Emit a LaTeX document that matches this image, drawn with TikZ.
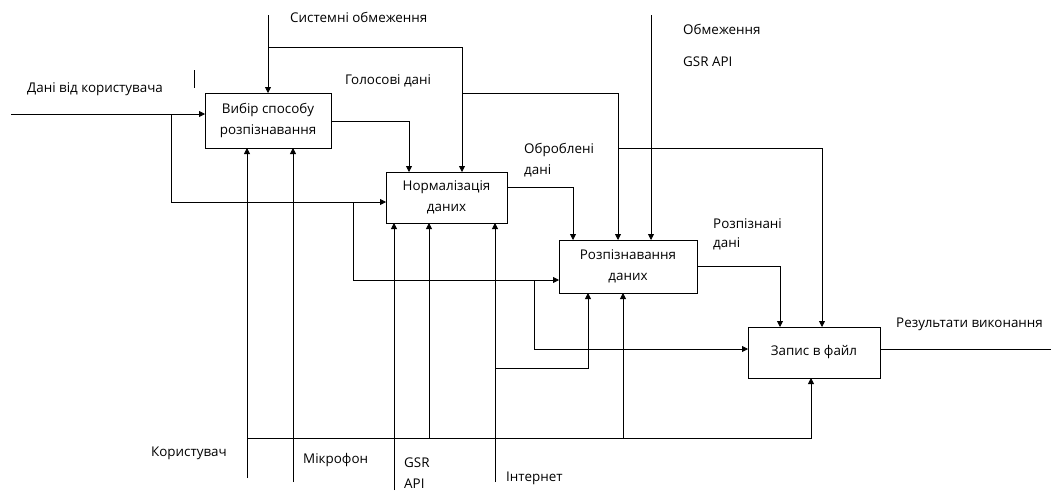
\documentclass[tikz,border=0pt]{standalone}
\usepackage{fontspec}
\setmainfont{Open Sans}
\usetikzlibrary{arrows.meta}
\begin{document}
\begin{tikzpicture}[x=1pt,y=-1pt,
  every node/.style={font=\fontsize{13.4}{21}\selectfont},
  box/.style={draw,line width=0.9pt,rectangle,inner sep=0pt,outer sep=0pt,align=center},
  lbl/.style={anchor=west,inner sep=0pt},
  wire/.style={line width=0.8pt},
  arr/.style={wire,-{Triangle[length=6pt,width=6pt]}}]
\useasboundingbox (0,0) rectangle (1051,490);

% activity boxes
\node[box,minimum width=126pt,minimum height=55pt] (b1) at (268,120.5) {Вибір способу\\розпізнавання};
\node[box,minimum width=121pt,minimum height=51pt] (b2) at (446.5,197.5) {Нормалізація\\даних};
\node[box,minimum width=138pt,minimum height=53pt] (b3) at (628,266.5) {Розпізнавання\\даних};
\node[box,minimum width=132pt,minimum height=51pt] (b4) at (814,352.5) {\raisebox{5pt}{Запис в файл}};

% free ends and junctions
\coordinate (in) at (11,114);
\coordinate (j1) at (171,114);
\coordinate (j2) at (353,202);
\coordinate (j3) at (534,280);
\coordinate (sys) at (268,15);
\coordinate (j4) at (268,47);
\coordinate (j5) at (462,93);
\coordinate (j6) at (618,148);
\coordinate (gsrtop) at (651,15);
\coordinate (out) at (1051,349);
\coordinate (usr) at (247,478);
\coordinate (mic) at (293,482);
\coordinate (j7) at (247,438);
\coordinate (gsr) at (394,490);
\coordinate (net) at (495,482);
\coordinate (j8) at (495,368);

% inputs
\draw[arr] (in) -- (in -| b1.west);
\draw[arr] (j1) |- (b2.west |- j2);
\draw[arr] (j2) |- (b3.west |- j3);
\draw[arr] (j3) |- (b4.west |- out);

% controls
\draw[arr] (sys) -- (sys |- b1.north);
\draw[arr] (j4) -| (b2.north -| j5);
\draw[arr] (j5) -| (b3.north -| j6);
\draw[arr] (j6) -| (b4.north -| 822,0);
\draw[arr] (gsrtop) -- (gsrtop |- b3.north);

% outputs
\draw[arr] (b1.east |- 0,121) -| (b2.north -| 409,0);
\draw[arr] (b2.east |- 0,187) -| (b3.north -| 573,0);
\draw[arr] (b3.east |- 0,266) -| (b4.north -| 780,0);
\draw[wire] (b4.east |- out) -- (out);

% mechanisms
\draw[arr] (usr) -- (usr |- b1.south);
\draw[arr] (mic) -- (mic |- b1.south);
\draw[arr] (j7) -| (b4.south -| 811,0);
\draw[arr] (j7 -| 429,0) -- (b2.south -| 429,0);
\draw[arr] (j7 -| 623,0) -- (b3.south -| 623,0);
\draw[arr] (gsr) -- (gsr |- b2.south);
\draw[arr] (net) -- (net |- b2.south);
\draw[arr] (j8) -| (b3.south -| 588,0);

% short stroke near the input label
\draw[wire] (194,70) -- (194,88);

% labels
\node[lbl] (t1) at (290,17) {Системні обмеження};
\node[lbl] (t2) at (27,89) {Дані від користувача};
\node[lbl] (t3) at (345,81) {Голосові дані};
\node[lbl] (t4) at (683,29) {Обмеження};
\node[lbl] (t5) at (683,62) {GSR API};
\node[lbl] (t6) at (524,150) {Оброблені};
\node[lbl] (t7) at (524,171) {дані};
\node[lbl] (t8) at (713,224) {Розпізнані};
\node[lbl] (t9) at (713,244) {дані};
\node[lbl] (t10) at (896,324) {Результати виконання};
\node[lbl] (t11) at (151,453) {Користувач};
\node[lbl] (t12) at (303,460) {Мікрофон};
\node[lbl] (t13) at (404,463) {GSR};
\node[lbl] (t14) at (404,484) {API};
\node[lbl] (t15) at (506,478) {Інтернет};
\end{tikzpicture}
\end{document}
